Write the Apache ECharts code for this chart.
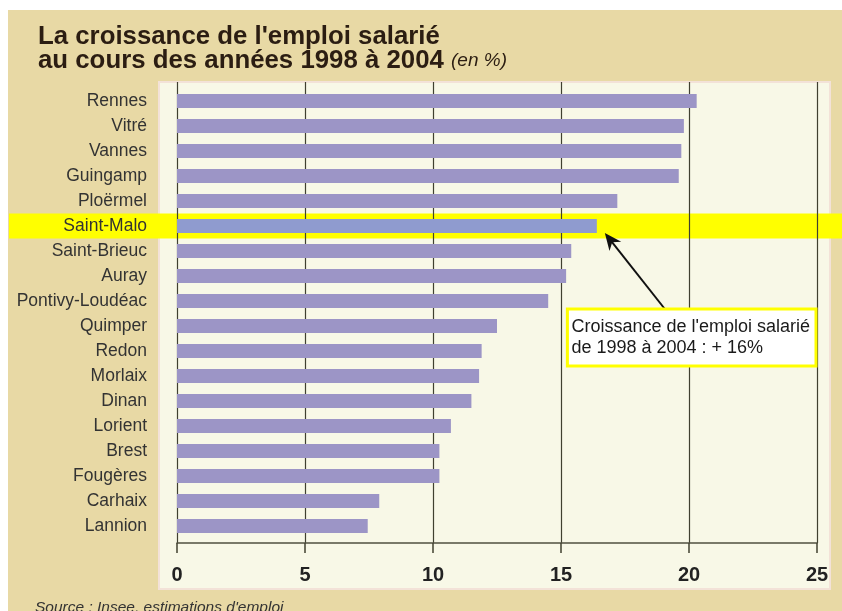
<!DOCTYPE html>
<html>
<head>
<meta charset="utf-8">
<script src="https://cdn.jsdelivr.net/npm/echarts@6/dist/echarts.min.js"></script>
<style>
  html, body { margin: 0; padding: 0; background: #ffffff; }
  #chart { width: 842px; height: 611px; }
</style>
</head>
<body>
<div id="chart"></div>
<script>
  // villes, du haut vers le bas
  const categories = ['Rennes', 'Vitré', 'Vannes', 'Guingamp', 'Ploërmel', 'Saint-Malo',
    'Saint-Brieuc', 'Auray', 'Pontivy-Loudéac', 'Quimper', 'Redon', 'Morlaix',
    'Dinan', 'Lorient', 'Brest', 'Fougères', 'Carhaix', 'Lannion'];
  // croissance de l'emploi salarié 1998-2004 (%)
  const values = [20.3, 19.8, 19.7, 19.6, 17.2, 16.4,
    15.4, 15.2, 14.5, 12.5, 11.9, 11.8,
    11.5, 10.7, 10.25, 10.25, 7.9, 7.45];
  const xTicks = [0, 5, 10, 15, 20, 25];
  const highlight = 'Saint-Malo';
  const noteLines = ["Croissance de l'emploi salarié", 'de 1998 à 2004 : + 16%'];

  const font = '"Liberation Sans", Arial, sans-serif';
  const tan = '#e8d9a5';
  const cream = '#f8f8e7';

  let myChart = echarts.init(document.getElementById('chart'))

  myChart.setOption({
    backgroundColor: '#ffffff',
    animation: false,
    title: {
      left: 33,
      top: 20,
      text: "La croissance de l'emploi salarié\n{b|au cours des années 1998 à 2004} {i|(en %)}",
      textStyle: {
        fontFamily: font,
        fontSize: 25.8,
        fontWeight: 'bold',
        color: '#2b1d12',
        lineHeight: 24,
        rich: {
          b: { fontFamily: font, fontSize: 25.8, fontWeight: 'bold', color: '#2b1d12', lineHeight: 24 },
          i: { fontFamily: font, fontSize: 19, fontStyle: 'italic', fontWeight: 'normal', color: '#2b1d12', lineHeight: 24 }
        }
      }
    },
    grid: [
      // barres
      { left: 177, right: 25, top: 88.5, height: 450 },
      // cadre des graduations
      { left: 177, right: 25, top: 82, height: 461 }
    ],
    xAxis: [
      {
        gridIndex: 0,
        type: 'value',
        min: xTicks[0],
        max: xTicks[xTicks.length - 1],
        interval: 5,
        show: false
      },
      {
        gridIndex: 1,
        type: 'value',
        min: xTicks[0],
        max: xTicks[xTicks.length - 1],
        interval: 5,
        axisLine: { show: true, lineStyle: { color: '#505040', width: 1.5 } },
        axisTick: { show: true, length: 10, lineStyle: { color: '#404030', width: 1.5 } },
        splitLine: { show: true, lineStyle: { color: '#404030', width: 1.2 } },
        axisLabel: {
          margin: 22,
          fontFamily: font,
          fontSize: 20,
          fontWeight: 'bold',
          color: '#222222',
          formatter: (v) => xTicks.includes(v) ? String(v) : ''
        }
      }
    ],
    yAxis: [
      {
        gridIndex: 0,
        type: 'category',
        inverse: true,
        data: categories,
        axisLine: { show: false },
        axisTick: { show: false },
        axisLabel: {
          margin: 30,
          fontFamily: font,
          fontSize: 17.5,
          color: '#333333'
        },
        z: 5
      },
      {
        gridIndex: 1,
        type: 'value',
        show: false
      }
    ],
    series: [
      {
        type: 'bar',
        xAxisIndex: 0,
        yAxisIndex: 0,
        barWidth: 14,
        z: 3,
        data: values.map((v, i) => ({
          value: v,
          itemStyle: { color: categories[i] === highlight ? '#8f9bcf' : '#9c95c6' }
        }))
      }
    ]
  })

  // décor: fond, cadre, bandeau jaune, encadré et flèche
  function drawDecor() {
    const idx = categories.indexOf(highlight);
    const yMid = myChart.convertToPixel({ yAxisIndex: 0 }, highlight);
    const band = 25;
    const barEnd = myChart.convertToPixel({ xAxisIndex: 0 }, values[idx]);
    const x15 = myChart.convertToPixel({ xAxisIndex: 0 }, 15.25);
    const x25 = myChart.convertToPixel({ xAxisIndex: 0 }, 25);
    const boxTop = yMid + 83;
    const tip = [barEnd + 8, yMid + 7];
    const tail = [barEnd + 68, boxTop];
    const ang = Math.atan2(tail[1] - tip[1], tail[0] - tip[0]);
    const hl = 17, hw = 7.5;
    const bx = tip[0] + Math.cos(ang) * hl, by = tip[1] + Math.sin(ang) * hl;
    const head = [
      tip,
      [bx - Math.sin(ang) * hw, by + Math.cos(ang) * hw],
      [tip[0] + Math.cos(ang) * hl * 0.7, tip[1] + Math.sin(ang) * hl * 0.7],
      [bx + Math.sin(ang) * hw, by - Math.cos(ang) * hw]
    ];

    myChart.setOption({
      graphic: [
        { type: 'rect', z: -20, shape: { x: 8, y: 10, width: 834, height: 601 }, style: { fill: tan } },
        { type: 'rect', z: -15, shape: { x: 159, y: 82, width: 671, height: 507 },
          style: { fill: cream, stroke: '#f3e2d8', lineWidth: 2 } },
        { type: 'rect', z: -10, shape: { x: 9, y: yMid - band / 2, width: 833, height: band },
          style: { fill: '#ffff00' } },
        { type: 'line', z: 10, shape: { x1: tail[0], y1: tail[1], x2: tip[0] + Math.cos(ang) * 10, y2: tip[1] + Math.sin(ang) * 10 },
          style: { stroke: '#111111', lineWidth: 2 } },
        { type: 'polygon', z: 10, shape: { points: head }, style: { fill: '#111111' } },
        { type: 'rect', z: 10, shape: { x: x15, y: boxTop, width: x25 - x15 - 1, height: 57 },
          style: { fill: '#ffffff', stroke: '#ffff00', lineWidth: 3 } },
        { type: 'text', z: 11, x: x15 + 4, y: boxTop + 8,
          style: { text: noteLines.join('\n'), font: '18px ' + font, fill: '#1a1a1a', lineHeight: 21 } },
        { type: 'text', z: 11, x: 35, y: 600,
          style: { text: "Source : Insee, estimations d'emploi", font: 'italic 15.5px ' + font, fill: '#333333' } }
      ]
    })
  }
  drawDecor()
</script>
</body>
</html>
